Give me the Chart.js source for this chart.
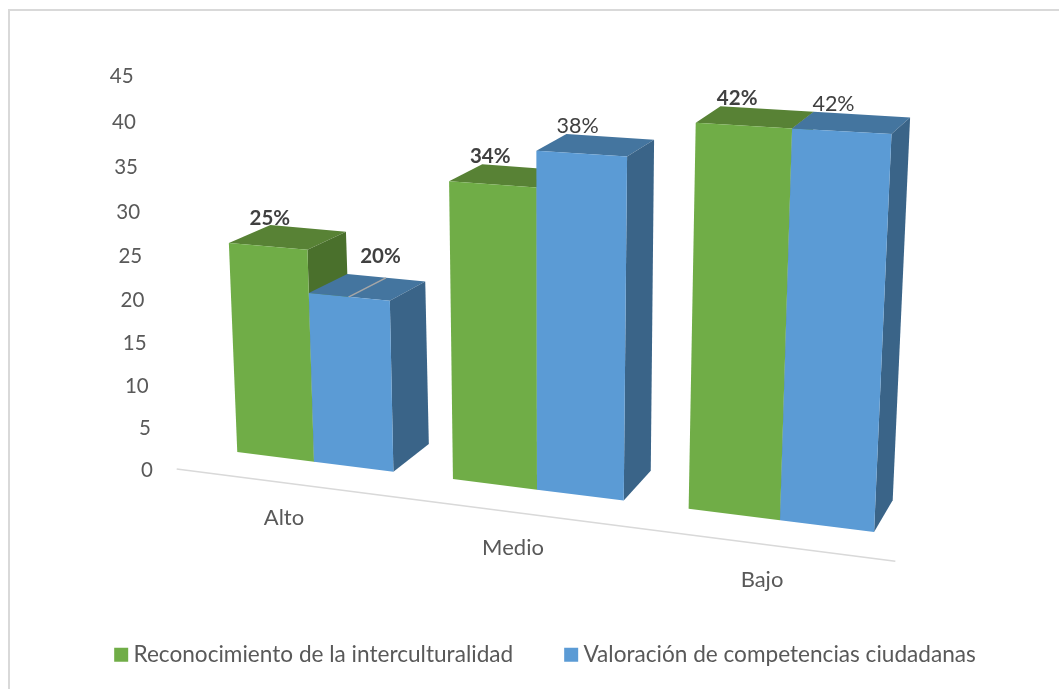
<!DOCTYPE html>
<html>
<head>
<meta charset="utf-8">
<title>Niveles</title>
<script src="https://cdn.jsdelivr.net/npm/chart.js@4/dist/chart.umd.min.js"></script>
<style>
  html, body { margin: 0; background: #fff; }
  #frame { position: absolute; left: 8px; top: 9px; right: 0; bottom: 0; border-left: 2px solid #d9d9d9; border-top: 2px solid #d9d9d9; }
  canvas { position: absolute; left: 0; top: 0; }
</style>
</head>
<body>
<div id="frame"></div>
<canvas id="chart" width="1059" height="689"></canvas>
<script>
const categories = ["Alto", "Medio", "Bajo"];
const serieNames = ["Reconocimiento de la interculturalidad", "Valoración de competencias ciudadanas"];
const reconocimiento = [25, 34, 42];
const valoracion = [20, 38, 42];
const reconocimientoLabels = ["25%", "34%", "42%"];
const valoracionLabels = ["20%", "38%", "42%"];
const reconocimientoBold = [true, true, true];
const valoracionBold = [true, false, false];
const yTicks = [0, 5, 10, 15, 20, 25, 30, 35, 40, 45];

const FONT = "Lato";
const faces = [
  { front: "#70ad47", top: "#588235", side: "#4a702c" },
  { front: "#5b9bd5", top: "#44759f", side: "#3a6488" },
];

// perspective of the 3D column chart: p = position in category units (Alto = 0),
// v = value, d = depth (0 front, 1 back)
const project = (p, v, d) => {
  const x0 = 314 + 213 * p + 10 * p * p;
  const y0 = 452 + 0.1256 * (x0 - 237);
  const tilt = -0.262 + 0.215 * p + 0.03 * p * p;
  const rise = v * (8.25 + 0.31 * p + 0.02 * p * p + 0.009 * v);
  const depthX = 38.5 - 8.4 * p;
  const depthY = 15 + (12 + 2 * p) * Math.exp(-v / 18);
  return [x0 + v * tilt + d * depthX, y0 - rise - d * depthY];
};

// value axis runs on the back wall, it leans and stretches a little
const tickPos = (v) => [153 - 0.43 * v, 470.7 - 8.35 * v - 0.0091 * v * v];

const poly = (ctx, pts, color) => {
  ctx.beginPath();
  pts.forEach((pt, i) => (i ? ctx.lineTo(pt[0], pt[1]) : ctx.moveTo(pt[0], pt[1])));
  ctx.closePath();
  ctx.fillStyle = color;
  ctx.fill();
};

const columns3d = {
  id: "columns3d",
  beforeDatasetDraw: () => false,
  afterDatasetsDraw(chart) {
    const { ctx, scales } = chart;
    const xs = scales.x;
    const ys = scales.y;
    const unit = xs.getPixelForValue(1) - xs.getPixelForValue(0);
    const toP = (px) => (px - xs.getPixelForValue(0)) / unit;

    ctx.save();
    // floor line
    ctx.strokeStyle = "#d9d9d9";
    ctx.lineWidth = 1.5;
    const a = project(toP(xs.left), 0, -0.78);
    const b = project(toP(xs.right), 0, -0.78);
    ctx.beginPath();
    ctx.moveTo(a[0], a[1]);
    ctx.lineTo(b[0], b[1]);
    ctx.stroke();

    categories.forEach((cat, i) => {
      chart.data.datasets.forEach((ds, s) => {
        const el = chart.getDatasetMeta(s).data[i];
        const p0 = toP(el.x - el.width / 2);
        const p1 = toP(el.x + el.width / 2);
        const v = ys.getValueForPixel(el.y);
        poly(ctx, [project(p0, v, 0), project(p1, v, 0), project(p1, v, 1), project(p0, v, 1)], faces[s].top);
        poly(ctx, [project(p1, 0, 0), project(p1, v, 0), project(p1, v, 1), project(p1, 0, 1)], faces[s].side);
        poly(ctx, [project(p0, 0, 0), project(p1, 0, 0), project(p1, v, 0), project(p0, v, 0)], faces[s].front);
      });
    });

    // leader line of the moved 20% label
    const el20 = chart.getDatasetMeta(1).data[0];
    const pm = toP(el20.x);
    const vm = ys.getValueForPixel(el20.y);
    const l0 = project(pm, vm, 0);
    const l1 = project(pm, vm, 1);
    ctx.strokeStyle = "#a6a6a6";
    ctx.lineWidth = 1.5;
    ctx.beginPath();
    ctx.moveTo(l0[0], l0[1]);
    ctx.lineTo(l1[0], l1[1]);
    ctx.stroke();

    // data labels
    ctx.textAlign = "center";
    ctx.textBaseline = "middle";
    chart.data.datasets.forEach((ds, s) => {
      chart.getDatasetMeta(s).data.forEach((el, i) => {
        const pos = project(toP(el.x), ys.getValueForPixel(el.y), 0.5);
        const moved = s === 1 && i === 0;
        ctx.font = ds.labelBold[i] ? "bold 20.5px " + FONT : "21.5px " + FONT;
        ctx.fillStyle = "#404040";
        ctx.fillText(ds.labelText[i], pos[0] + (moved ? 13 : -18), pos[1] + (moved ? -31 : -19));
      });
    });

    // value ticks
    ctx.font = "20.5px " + FONT;
    ctx.fillStyle = "#595959";
    ctx.textAlign = "right";
    ys.ticks.forEach((t) => {
      const pos = tickPos(t.value);
      ctx.fillText(t.label, pos[0], pos[1]);
    });

    // category labels
    ctx.font = "22px " + FONT;
    ctx.textAlign = "center";
    categories.forEach((cat, i) => {
      const p = toP(xs.getPixelForValue(i));
      const pos = project(p, 0, 0);
      ctx.fillText(xs.getLabelForValue(i), pos[0] - 30 + 6 * p, pos[1] + 56 + 2 * p);
    });
    ctx.restore();
  },
};

new Chart(document.getElementById("chart"), {
  type: "bar",
  plugins: [columns3d],
  data: {
    labels: categories,
    datasets: [
      { label: serieNames[0], data: reconocimiento, backgroundColor: faces[0].front, labelText: reconocimientoLabels, labelBold: reconocimientoBold, pointStyle: "rect" },
      { label: serieNames[1], data: valoracion, backgroundColor: faces[1].front, labelText: valoracionLabels, labelBold: valoracionBold, pointStyle: "rect" },
    ],
  },
  options: {
    responsive: false,
    animation: false,
    layout: { padding: { left: 37, right: 0, top: 20, bottom: 13 } },
    categoryPercentage: 0.733,
    barPercentage: 1,
    scales: {
      x: {
        grid: { display: false },
        border: { display: false },
        ticks: { display: false },
      },
      y: {
        min: yTicks[0],
        max: yTicks[yTicks.length - 1],
        grid: { display: false },
        border: { display: false },
        ticks: { display: false, stepSize: yTicks[1] - yTicks[0] },
      },
    },
    plugins: {
      tooltip: { enabled: false },
      legend: {
        position: "bottom",
        labels: {
          usePointStyle: true,
          boxWidth: 2,
          boxHeight: 14,
          padding: 57,
          color: "#595959",
          font: { family: FONT, size: 22.6 },
        },
      },
    },
  },
});
</script>
</body>
</html>
